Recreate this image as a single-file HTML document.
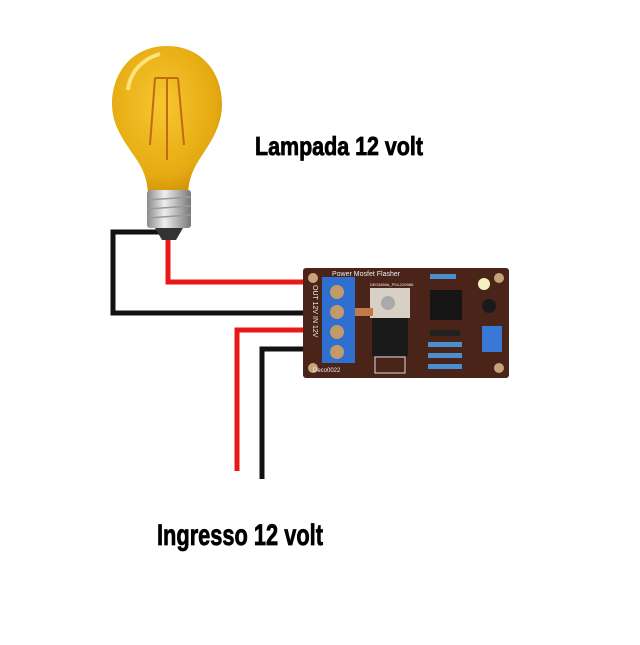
<!DOCTYPE html>
<html><head><style>html,body{margin:0;padding:0;background:#fff}</style></head>
<body>
<svg width="640" height="640" viewBox="0 0 640 640" xmlns="http://www.w3.org/2000/svg">
<defs>
<radialGradient id="g" cx="0.45" cy="0.4" r="0.7">
<stop offset="0" stop-color="#f5c82e"/><stop offset="0.7" stop-color="#e6aa12"/><stop offset="1" stop-color="#c48808"/>
</radialGradient>
<linearGradient id="s" x1="0" x2="1"><stop offset="0" stop-color="#8a8a8a"/><stop offset="0.4" stop-color="#eee"/><stop offset="1" stop-color="#777"/></linearGradient>
</defs>
<g fill="none" stroke-width="5" stroke-linejoin="miter">
<path d="M163 232 H113 V313 H304" stroke="#111"/>
<path d="M168 240 V282 H304" stroke="#e81818"/>
<path d="M304 330 H237 V471" stroke="#e81818"/>
<path d="M304 349 H262 V479" stroke="#111"/>
</g>
<path d="M167 46 C133 46 112 72 112 104 C112 130 130 148 140 165 C146 176 147 184 148 192 L188 192 C189 184 190 176 196 165 C206 148 222 130 222 104 C222 72 201 46 167 46 Z" fill="url(#g)"/>
<path d="M128 90 C130 70 145 58 160 54" stroke="#fbe37a" stroke-width="4" fill="none"/>
<path d="M155 78 L150 145 M178 78 L184 145 M155 78 H178 M167 78 V160" stroke="#c46a10" stroke-width="2" fill="none"/>
<rect x="147" y="190" width="44" height="38" rx="3" fill="url(#s)"/>
<g stroke="#999" stroke-width="1.5"><line x1="147" y1="200" x2="191" y2="197"/><line x1="147" y1="209" x2="191" y2="206"/><line x1="147" y1="218" x2="191" y2="215"/></g>
<path d="M155 228 H183 L176 240 H162 Z" fill="#333"/>
<rect x="303" y="268" width="206" height="110" rx="3" fill="#4a2418"/>
<g fill="#c9a27a"><circle cx="313" cy="278" r="5"/><circle cx="499" cy="278" r="5"/><circle cx="313" cy="368" r="5"/><circle cx="499" cy="368" r="5"/></g>
<rect x="322" y="277" width="33" height="86" fill="#2f6fd0"/>
<g fill="#c59a6a"><circle cx="337" cy="292" r="7"/><circle cx="337" cy="312" r="7"/><circle cx="337" cy="332" r="7"/><circle cx="337" cy="352" r="7"/></g>
<rect x="370" y="288" width="40" height="30" fill="#d8d0c4"/>
<circle cx="388" cy="303" r="7" fill="#aaa"/>
<rect x="355" y="308" width="18" height="8" fill="#c07a4a"/>
<rect x="372" y="318" width="36" height="38" fill="#1a1a1a"/>
<rect x="430" y="290" width="32" height="30" fill="#151515"/>
<g fill="#4a8fd0"><rect x="430" y="274" width="26" height="5"/><rect x="428" y="342" width="34" height="5"/><rect x="428" y="353" width="34" height="5"/><rect x="428" y="364" width="34" height="5"/></g>
<rect x="430" y="330" width="30" height="6" fill="#222"/>
<circle cx="484" cy="284" r="6" fill="#f4f0c0"/>
<circle cx="489" cy="306" r="7" fill="#1a1a1a"/>
<rect x="482" y="326" width="20" height="26" fill="#3a78d8"/>
<rect x="375" y="357" width="30" height="16" fill="none" stroke="#ddd" stroke-width="1"/>
<g font-family="Liberation Sans, sans-serif" fill="#eee">
<text x="332" y="276" font-size="7">Power Mosfet Flasher</text>
<text x="313" y="372" font-size="6">Deco0022</text>
<text x="370" y="286" font-size="4">DE03456A_P04-220086</text>
<text font-size="7" transform="translate(313 285) rotate(90)">OUT 12V  IN 12V</text>
</g>
<g font-family="Liberation Sans, sans-serif" font-weight="bold" fill="#000" stroke="#000" stroke-width="0.8">
<text x="255" y="155" font-size="26" textLength="168" lengthAdjust="spacingAndGlyphs">Lampada 12 volt</text>
<text x="157" y="545" font-size="30" textLength="166" lengthAdjust="spacingAndGlyphs">Ingresso 12 volt</text>
</g>
</svg>
</body></html>
